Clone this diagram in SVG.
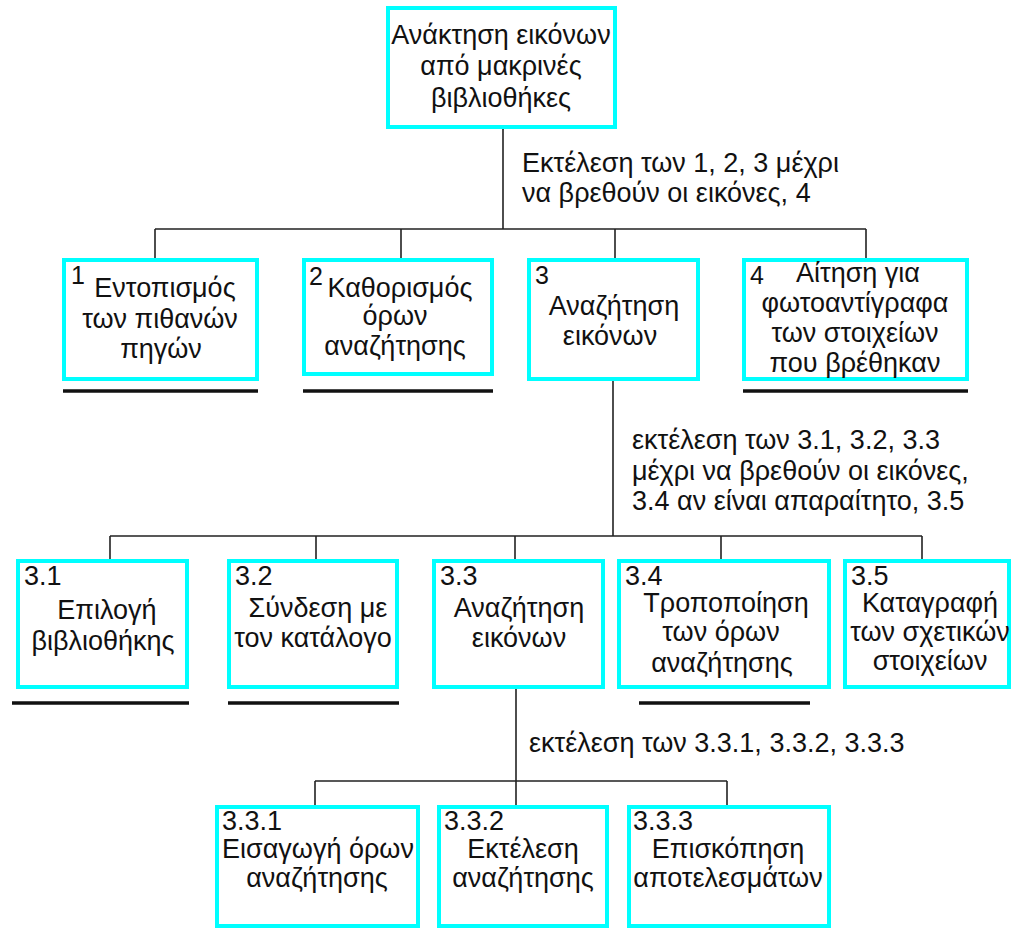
<svg xmlns="http://www.w3.org/2000/svg" width="1014" height="934" viewBox="0 0 1014 934">
<style>
.box{fill:#fff;stroke:#00ffff;stroke-width:4}
.t{font-family:"Liberation Sans",Arial,sans-serif;font-size:27px;fill:#111}
.n{font-size:25px}
.c{text-anchor:middle}
.con{stroke:#222;stroke-width:1.6;fill:none}
.ul{stroke:#111;stroke-width:3.5}
</style>
<rect width="1014" height="934" fill="#fff"/>
<g id="connectors">
<path class="con" d="M503 129V229M155 229H866M155 229V258M401 229V258M615 229V258M866 229V258"/>
<path class="con" d="M613 381V536M110 536H922M110 536V559M316 536V559M515 536V559M721 536V559M922 536V559"/>
<path class="con" d="M516 689V805M315 781H727M315 781V805M727 781V805"/>
</g>
<g id="labels">
<text class="t" x="522" y="172">Εκτέλεση των 1, 2, 3 μέχρι</text>
<text class="t" x="522" y="202">να βρεθούν οι εικόνες, 4</text>
<text class="t" x="632" y="449">εκτέλεση των 3.1, 3.2, 3.3</text>
<text class="t" x="632" y="480">μέχρι να βρεθούν οι εικόνες,</text>
<text class="t" x="632" y="510">3.4 αν είναι απαραίτητο, 3.5</text>
<text class="t" x="529" y="752">εκτέλεση των 3.3.1, 3.3.2, 3.3.3</text>
</g>
<g id="n0">
<rect class="box" x="388" y="8" width="227" height="119"/>
<text class="t c" x="501" y="44">Ανάκτηση εικόνων</text>
<text class="t c" x="501" y="75">από μακρινές</text>
<text class="t c" x="501" y="107">βιβλιοθήκες</text>
</g>
<g id="n1">
<rect class="box" x="64" y="260" width="193" height="119"/>
<text class="t n" x="71" y="284">1</text>
<text class="t c" x="165" y="297">Εντοπισμός</text>
<text class="t c" x="160" y="328">των πιθανών</text>
<text class="t c" x="161" y="358">πηγών</text>
<line class="ul" x1="63" y1="391" x2="258" y2="391"/>
</g>
<g id="n2">
<rect class="box" x="304" y="260" width="188" height="114"/>
<text class="t n" x="309" y="285">2</text>
<text class="t c" x="400" y="297">Καθορισμός</text>
<text class="t c" x="395" y="325">όρων</text>
<text class="t c" x="395" y="355">αναζήτησης</text>
<line class="ul" x1="303" y1="391" x2="493" y2="391"/>
</g>
<g id="n3">
<rect class="box" x="529" y="260" width="169" height="119"/>
<text class="t n" x="535" y="284">3</text>
<text class="t c" x="614" y="315">Αναζήτηση</text>
<text class="t c" x="610" y="345">εικόνων</text>
</g>
<g id="n4">
<rect class="box" x="744" y="260" width="223" height="119"/>
<text class="t n" x="750" y="284">4</text>
<text class="t c" x="858" y="282">Αίτηση για</text>
<text class="t c" x="855" y="312">φωτοαντίγραφα</text>
<text class="t c" x="855" y="342">των στοιχείων</text>
<text class="t c" x="855" y="372">που βρέθηκαν</text>
<line class="ul" x1="743" y1="391" x2="968" y2="391"/>
</g>
<g id="n31">
<rect class="box" x="18" y="561" width="169" height="126"/>
<text class="t" x="24" y="585">3.1</text>
<text class="t c" x="107" y="619">Επιλογή</text>
<text class="t c" x="103" y="650">βιβλιοθήκης</text>
<line class="ul" x1="12" y1="703" x2="189" y2="703"/>
</g>
<g id="n32">
<rect class="box" x="229" y="561" width="168" height="126"/>
<text class="t" x="235" y="585">3.2</text>
<text class="t c" x="318" y="617">Σύνδεση με</text>
<text class="t c" x="313" y="647">τον κατάλογο</text>
<line class="ul" x1="228" y1="703" x2="399" y2="703"/>
</g>
<g id="n33">
<rect class="box" x="434" y="561" width="169" height="126"/>
<text class="t" x="440" y="585">3.3</text>
<text class="t c" x="519" y="617">Αναζήτηση</text>
<text class="t c" x="519" y="647">εικόνων</text>
</g>
<g id="n34">
<rect class="box" x="619" y="561" width="210" height="126"/>
<text class="t" x="625" y="585">3.4</text>
<text class="t c" x="726" y="612">Τροποποίηση</text>
<text class="t c" x="721" y="641">των όρων</text>
<text class="t c" x="722" y="672">αναζήτησης</text>
<line class="ul" x1="639" y1="703" x2="810" y2="703"/>
</g>
<g id="n35">
<rect class="box" x="845" y="561" width="164" height="126"/>
<text class="t" x="851" y="585">3.5</text>
<text class="t c" x="930" y="612">Καταγραφή</text>
<text class="t c" x="930" y="641">των σχετικών</text>
<text class="t c" x="930" y="670">στοιχείων</text>
</g>
<g id="n331">
<rect class="box" x="217" y="807" width="201" height="119"/>
<text class="t" x="222" y="830">3.3.1</text>
<text class="t c" x="318" y="858">Εισαγωγή όρων</text>
<text class="t c" x="317" y="887">αναζήτησης</text>
</g>
<g id="n332">
<rect class="box" x="439" y="807" width="168" height="119"/>
<text class="t" x="444" y="830">3.3.2</text>
<text class="t c" x="523" y="858">Εκτέλεση</text>
<text class="t c" x="523" y="887">αναζήτησης</text>
</g>
<g id="n333">
<rect class="box" x="629" y="807" width="200" height="119"/>
<text class="t" x="633" y="830">3.3.3</text>
<text class="t c" x="728" y="858">Επισκόπηση</text>
<text class="t c" x="728" y="887">αποτελεσμάτων</text>
</g>
</svg>
